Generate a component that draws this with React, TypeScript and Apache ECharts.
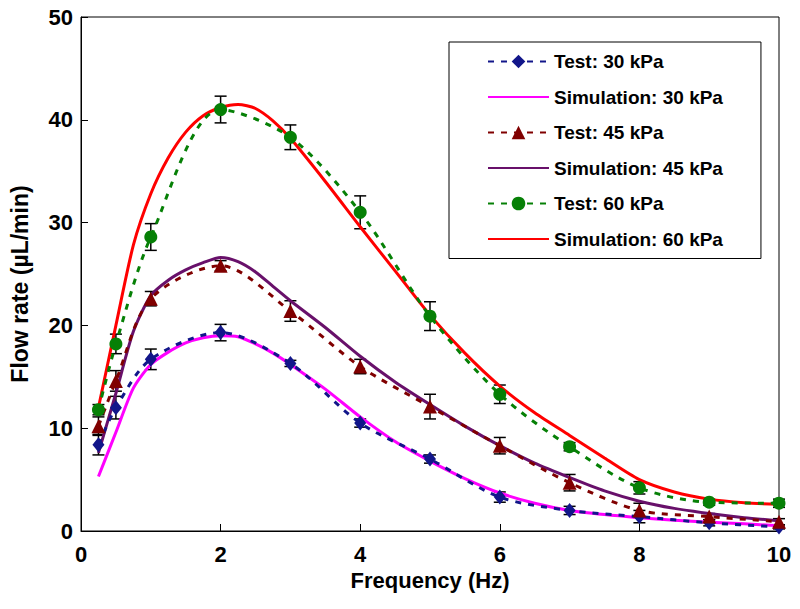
import React, { useEffect, useRef } from "react";
import * as echarts from "echarts";

// Test frequencies (Hz)
const testFreq = [0.25, 0.5, 1, 2, 3, 4, 5, 6, 7, 8, 9, 10];
// Measured flow rates (µL/min) and error magnitudes
const test30 = [8.4, 12.0, 16.7, 19.3, 16.3, 10.5, 7.0, 3.3, 2.0, 1.4, 0.8, 0.4];
const err30 = [1.0, 1.1, 1.0, 0.8, 0.3, 0.4, 0.4, 0.5, 0.4, 0.6, 0.3, 0.2];
const test45 = [10.2, 14.6, 22.6, 25.8, 21.4, 16.0, 12.1, 8.3, 4.7, 2.0, 1.4, 0.9];
const err45 = [0.9, 1.0, 0.7, 0.5, 1.0, 0.7, 1.2, 0.8, 0.8, 0.7, 0.3, 0.3];
const test60 = [11.8, 18.2, 28.6, 41.0, 38.3, 31.0, 20.9, 13.3, 8.2, 4.2, 2.8, 2.7];
const err60 = [0.5, 0.95, 1.3, 1.3, 1.2, 1.6, 1.4, 0.9, 0.4, 0.6, 0.3, 0.4];

// Simulation frequencies (Hz)
const simFreq = [0.25, 0.5, 0.75, 1, 1.25, 1.5, 1.75, 2, 2.25, 2.5, 2.75, 3, 3.5, 4, 4.5, 5, 5.5, 6, 6.5, 7, 7.5, 8, 8.5, 9, 9.5, 10];
const sim30 = [5.3, 9.6, 13.9, 16.2, 17.4, 18.3, 18.8, 19.0, 18.9, 18.2, 17.3, 16.2, 13.8, 11.1, 8.7, 6.8, 5.1, 3.7, 2.7, 2.0, 1.6, 1.3, 1.05, 0.85, 0.7, 0.5];
const sim45 = [7.6, 13.4, 19.4, 22.9, 24.4, 25.4, 26.1, 26.6, 26.2, 25.2, 23.8, 22.4, 19.8, 17.0, 14.5, 12.3, 10.2, 8.3, 6.6, 5.2, 3.9, 2.9, 2.2, 1.7, 1.3, 1.0];
const sim60 = [12.0, 20.0, 27.8, 32.8, 36.3, 38.8, 40.4, 41.2, 41.5, 41.1, 39.9, 38.2, 34.0, 29.6, 25.3, 21.0, 17.3, 14.1, 11.5, 9.3, 7.1, 5.0, 3.8, 3.1, 2.75, 2.6];

const xTicks = { min: 0, max: 10, interval: 2 };
const yTicks = { min: 0, max: 50, interval: 10 };

const FONT = "'Liberation Sans', Arial, Helvetica, sans-serif";

const pairs = (xs: number[], ys: number[]) => xs.map((x, i) => [x, ys[i]]);
const triples = (xs: number[], ys: number[], es: number[]) => xs.map((x, i) => [x, ys[i], es[i]]);

function errorSeries(data: number[][]) {
  return {
    type: "custom",
    silent: true,
    z: 1,
    encode: { x: 0, y: 1 },
    data,
    renderItem: (params: any, api: any) => {
      const x = api.value(0);
      const y = api.value(1);
      const e = api.value(2);
      const top = api.coord([x, y + e]);
      const bot = api.coord([x, y - e]);
      const cap = 6;
      const style = { stroke: "#000", lineWidth: 1.5 };
      return {
        type: "group",
        children: [
          { type: "line", shape: { x1: top[0], y1: top[1], x2: bot[0], y2: bot[1] }, style },
          { type: "line", shape: { x1: top[0] - cap, y1: top[1], x2: top[0] + cap, y2: top[1] }, style },
          { type: "line", shape: { x1: bot[0] - cap, y1: bot[1], x2: bot[0] + cap, y2: bot[1] }, style },
        ],
      };
    },
  };
}

function testSeries(name: string, ys: number[], color: string, symbol: string, symbolSize: any) {
  return {
    name,
    type: "line",
    data: pairs(testFreq, ys),
    smooth: 0.3,
    symbol,
    symbolSize,
    z: 3,
    itemStyle: { color },
    lineStyle: { color, width: 3, type: [6, 7] },
  };
}

function simSeries(name: string, ys: number[], color: string) {
  return {
    name,
    type: "line",
    data: pairs(simFreq, ys),
    smooth: 0.25,
    symbol: "none",
    z: 2,
    itemStyle: { color },
    lineStyle: { color, width: 3 },
  };
}

const testNames = ["Test: 30 kPa", "Test: 45 kPa", "Test: 60 kPa"];
const simNames = ["Simulation: 30 kPa", "Simulation: 45 kPa", "Simulation: 60 kPa"];

export default function App() {
  const ref = useRef<HTMLDivElement>(null);
  useEffect(() => {
    if (!ref.current) return;
    const chart = echarts.init(ref.current, undefined, { renderer: "svg" });
    const axisLabel = { color: "#000", fontSize: 22, fontWeight: "bold", fontFamily: FONT };
    const nameStyle = { color: "#000", fontSize: 22, fontWeight: "bold", fontFamily: FONT };
    const legendData: any[] = [];
    for (let i = 0; i < 3; i++) {
      legendData.push({ name: testNames[i] });
      legendData.push({ name: simNames[i], itemStyle: { opacity: 0 } });
    }
    chart.setOption({
      animation: false,
      backgroundColor: "#fff",
      grid: {
        left: 79,
        right: 21,
        top: 17,
        bottom: 78,
        show: true,
        borderColor: "#000",
        borderWidth: 1,
        backgroundColor: "transparent",
      },
      xAxis: {
        type: "value",
        ...xTicks,
        name: "Frequency (Hz)",
        nameLocation: "middle",
        nameGap: 38,
        nameTextStyle: nameStyle,
        axisLine: { lineStyle: { color: "#000", width: 1 } },
        axisTick: { inside: true, length: 7, lineStyle: { color: "#000" } },
        axisLabel: { ...axisLabel, margin: 12 },
        splitLine: { show: false },
      },
      yAxis: {
        type: "value",
        ...yTicks,
        name: "Flow rate (µL/min)",
        nameLocation: "middle",
        nameGap: 50,
        nameTextStyle: { ...nameStyle, fontSize: 23, padding: [0, 20, 0, 0] },
        axisLine: { show: true, lineStyle: { color: "#000", width: 1 } },
        axisTick: { show: true, inside: true, length: 7, lineStyle: { color: "#000" } },
        axisLabel: { ...axisLabel, margin: 8 },
        splitLine: { show: false },
      },
      legend: {
        orient: "vertical",
        left: 449,
        top: 42,
        padding: [10, 38, 10, 38],
        itemWidth: 61,
        itemHeight: 17,
        itemGap: 16.5,
        borderColor: "#000",
        borderWidth: 1,
        backgroundColor: "#fff",
        textStyle: { color: "#000", fontSize: 19, fontWeight: "bold", fontFamily: FONT },
        data: legendData,
      },
      series: [
        errorSeries(triples(testFreq, test30, err30)),
        errorSeries(triples(testFreq, test45, err45)),
        errorSeries(triples(testFreq, test60, err60)),
        testSeries(testNames[0], test30, "#12168a", "diamond", [12, 15]),
        simSeries(simNames[0], sim30, "#ff00ff"),
        testSeries(testNames[1], test45, "#800000", "triangle", 14),
        simSeries(simNames[1], sim45, "#68106a"),
        testSeries(testNames[2], test60, "#068006", "circle", 13),
        simSeries(simNames[2], sim60, "#ff0000"),
      ],
    });
    return () => chart.dispose();
  }, []);
  return <div ref={ref} style={{ position: "fixed", left: 0, top: 0, width: 800, height: 609 }} />;
}
